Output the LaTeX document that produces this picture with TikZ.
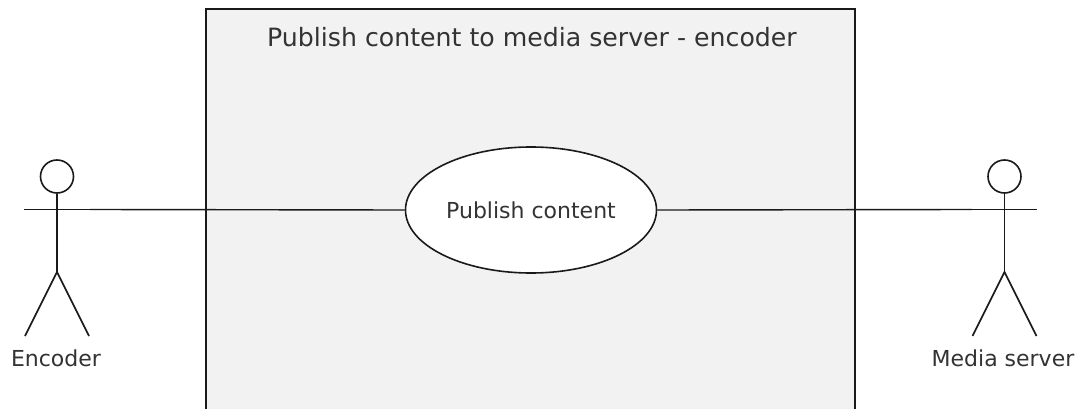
\documentclass[tikz,border=0pt]{standalone}
\usepackage{fontspec}
\setmainfont{DejaVu Sans}
\usetikzlibrary{shapes.geometric}
\definecolor{boxfill}{HTML}{F2F2F2}
\definecolor{inkc}{HTML}{1A1A1A}
\definecolor{txtc}{HTML}{333333}
\begin{document}
\begin{tikzpicture}[x=1pt,y=-1pt,
  lbl/.style={font=\fontsize{22}{26}\selectfont, text=txtc, inner sep=0pt},
  ttl/.style={font=\fontsize{25.2}{30}\selectfont, text=txtc, inner sep=0pt},
  actorline/.style={draw=inkc, line width=1.6pt},
  usecase/.style={ellipse, draw=inkc, line width=1.6pt, fill=white, minimum width=251pt, minimum height=126pt, inner sep=0pt},
  conn/.style={draw=inkc, line width=1.4pt}]
\useasboundingbox (0,0) rectangle (1077,409);
% system boundary
\fill[boxfill] (206,9) rectangle (855,412);
\draw[inkc, line width=2pt] (206,412) -- (206,9) -- (855,9) -- (855,412);
\node[ttl] (title) at (532,37) {Publish content to media server - encoder};
% use case
\node[usecase] (uc) at (531,210) {};
\node[lbl] (uctext) at (uc.center) {Publish content};
% left actor
\node[circle, draw=inkc, line width=1.6pt, minimum size=33pt, inner sep=0pt] (headL) at (57,176.5) {};
\coordinate (armLl) at (24,209.5);
\coordinate (armLr) at (90,209.5);
\coordinate (hipL) at (57,272);
\coordinate (footLl) at (25,336);
\coordinate (footLr) at (89,336);
\path[actorline] (headL.south) -- (hipL);
\path[actorline] (armLl) -- (armLr);
\path[actorline] (footLl) -- (hipL) -- (footLr);
\node[lbl] (encoder) at (56,358) {Encoder};
% right actor
\node[circle, draw=inkc, line width=1.6pt, minimum size=33pt, inner sep=0pt] (headR) at (1004.5,176.5) {};
\coordinate (armRl) at (972,209.5);
\coordinate (armRr) at (1037,209.5);
\coordinate (hipR) at (1004.5,272);
\coordinate (footRl) at (972.5,336);
\coordinate (footRr) at (1036.5,336);
\path[actorline] (headR.south) -- (hipR);
\path[actorline] (armRl) -- (armRr);
\path[actorline] (footRl) -- (hipR) -- (footRr);
\node[lbl] (media) at (1003,358) {Media server};
% connectors
\path[conn] (armLr) -- (uc.west);
\path[conn] (uc.east) -- (armRl);
\end{tikzpicture}
\end{document}
